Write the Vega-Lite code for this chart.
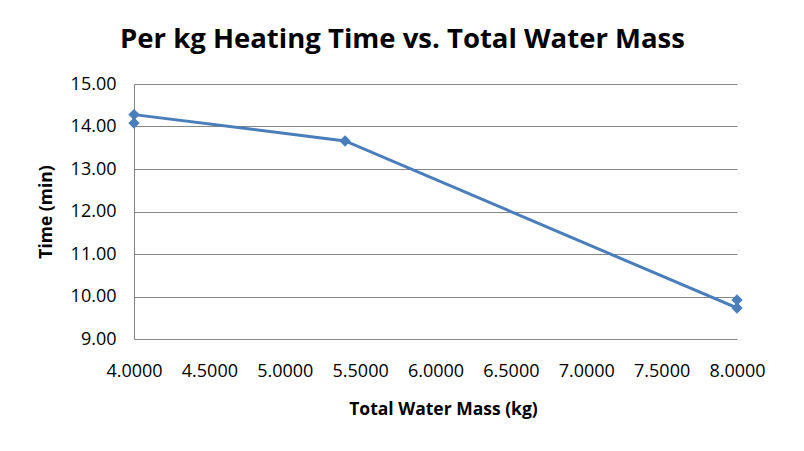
{
  "$schema": "https://vega.github.io/schema/vega-lite/v6.json",
  "width": 603,
  "height": 255,
  "autosize": "none",
  "padding": {"left": 134, "top": 84, "right": 67, "bottom": 112},
  "background": "white",
  "title": {
    "text": "Per kg Heating Time vs. Total Water Mass",
    "font": "Open Sans",
    "fontSize": 27.5,
    "fontWeight": "bold",
    "color": "#000000",
    "anchor": "middle",
    "offset": 22,
    "dx": -33
  },
  "data": {
    "values": [
      {"order": 1, "mass": 4.0, "time": 14.08},
      {"order": 2, "mass": 4.0, "time": 14.28},
      {"order": 3, "mass": 5.4, "time": 13.66},
      {"order": 4, "mass": 8.0, "time": 9.73},
      {"order": 5, "mass": 8.0, "time": 9.92}
    ]
  },
  "config": {
    "view": {"stroke": null},
    "axis": {
      "labelFont": "Open Sans",
      "titleFont": "Open Sans",
      "labelFontSize": 18,
      "titleFontSize": 17.5,
      "titleFontWeight": "bold",
      "labelColor": "#000000",
      "titleColor": "#000000",
      "gridColor": "#868686",
      "domainColor": "#868686",
      "ticks": false,
      "labelFlush": false,
      "labelOverlap": false
    }
  },
  "layer": [
    {
      "mark": {"type": "line", "color": "#4a7ebb", "strokeWidth": 3},
      "encoding": {
        "x": {"field": "mass", "type": "quantitative"},
        "y": {"field": "time", "type": "quantitative"},
        "order": {"field": "order"}
      }
    },
    {
      "mark": {"type": "point", "shape": "diamond", "filled": true, "color": "#4a7ebb", "size": 130, "opacity": 1},
      "encoding": {
        "x": {
          "field": "mass",
          "type": "quantitative",
          "scale": {"domain": [4, 8], "nice": false, "zero": false},
          "axis": {
            "title": "Total Water Mass (kg)",
            "values": [4, 4.5, 5, 5.5, 6, 6.5, 7, 7.5, 8],
            "format": ".4f",
            "grid": false,
            "domain": false,
            "labelPadding": 23,
            "titlePadding": 20,
            "titleX": 309
          }
        },
        "y": {
          "field": "time",
          "type": "quantitative",
          "scale": {"domain": [9, 15], "nice": false, "zero": false},
          "axis": {
            "title": "Time (min)",
            "values": [9, 10, 11, 12, 13, 14, 15],
            "format": ".2f",
            "grid": true,
            "labelPadding": 18,
            "titlePadding": 15
          }
        }
      }
    }
  ]
}
